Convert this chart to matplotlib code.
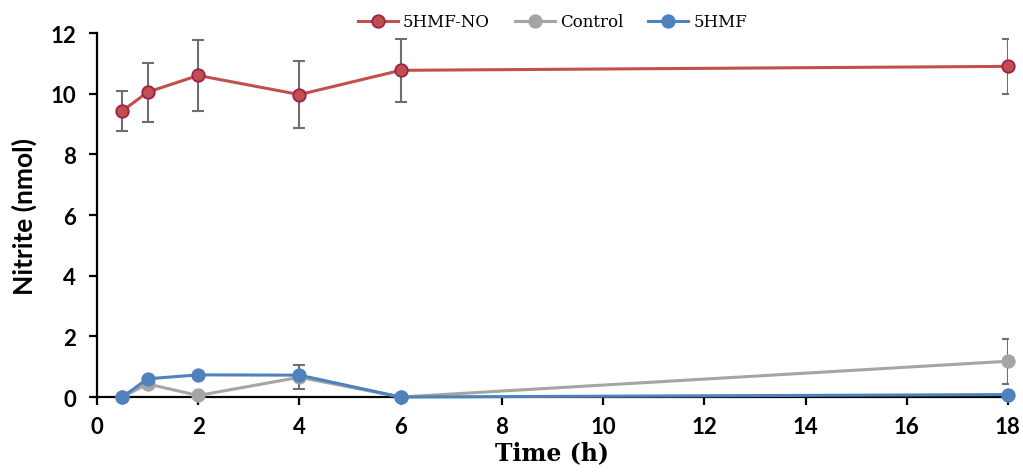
import matplotlib
matplotlib.use("Agg")
import matplotlib.pyplot as plt

time_h = [0.5, 1, 2, 4, 6, 18]
hmf_no = [9.43, 10.05, 10.6, 9.97, 10.77, 10.9]
hmf_no_err = [0.65, 0.97, 1.18, 1.1, 1.03, 0.9]
control = [0.0, 0.43, 0.05, 0.65, 0.0, 1.18]
control_err = [0.0, 0.05, 0.0, 0.4, 0.0, 0.74]
hmf = [0.0, 0.6, 0.73, 0.72, 0.0, 0.08]
hmf_err = [0.0, 0.0, 0.0, 0.0, 0.0, 0.0]

x_ticks = [0, 2, 4, 6, 8, 10, 12, 14, 16, 18]
y_ticks = [0, 2, 4, 6, 8, 10, 12]

fig = plt.figure(figsize=(10.23, 4.77), dpi=100)
ax = fig.add_axes([0.0948, 0.1656, 0.8905, 0.7631])

err_color = "#6e6e6e"
series = [
    ("5HMF-NO", hmf_no, hmf_no_err, "#C0504D", "#A0204A"),
    ("Control", control, control_err, "#A5A5A5", "#A5A5A5"),
    ("5HMF", hmf, hmf_err, "#4F81BD", "#4F81BD"),
]
for name, vals, errs, col, edge in series:
    ax.errorbar(time_h, vals, yerr=errs, ecolor=err_color, elinewidth=1.5,
                capsize=4, capthick=1.5, zorder=1, fmt="none")
for name, vals, errs, col, edge in series:
    ax.plot(time_h, vals, color=col, lw=2.2, marker="o", ms=9,
            mfc=col, mec=edge, mew=1.3, label=name, zorder=3, clip_on=False)

ax.set_xlim(0, 18)
ax.set_ylim(0, 12)
ax.set_xticks(x_ticks)
ax.set_yticks(y_ticks)
for s in ["top", "right"]:
    ax.spines[s].set_visible(False)
for s in ["left", "bottom"]:
    ax.spines[s].set_linewidth(1.6)
ax.tick_params(axis="both", direction="out", length=6, width=1.6, labelsize=16)
ax.tick_params(axis="x", pad=8)
ax.tick_params(axis="y", pad=9)
for lab in ax.get_xticklabels() + ax.get_yticklabels():
    lab.set_fontweight("bold")
    lab.set_fontfamily("Lato")

ax.set_xlabel("Time (h)", fontsize=17, fontweight="bold", family="DejaVu Serif", labelpad=2)
ax.set_ylabel("Nitrite (nmol)", fontsize=19, fontweight="bold", family="Lato", labelpad=10)

leg = ax.legend(loc="upper center", bbox_to_anchor=(0.5, 1.095), ncol=3, frameon=False,
                prop={"family": "DejaVu Serif", "size": 12}, handlelength=2.4,
                columnspacing=1.5, handletextpad=0.3)

fig.savefig("out.png", dpi=100)
